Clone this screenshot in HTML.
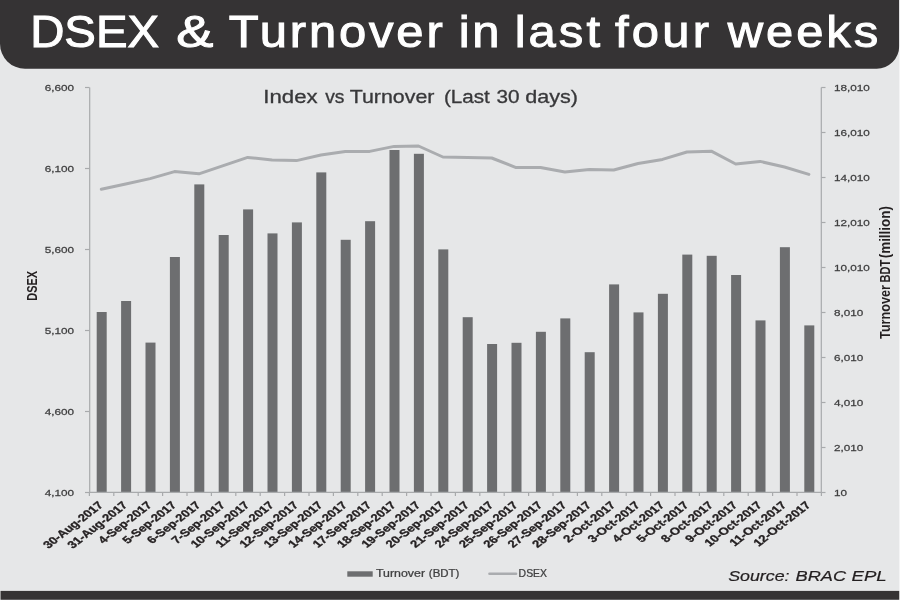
<!DOCTYPE html><html><head><meta charset="utf-8"><style>html,body{margin:0;padding:0;background:#e6e7e8}svg{display:block;will-change:transform}text{font-family:"Liberation Sans",sans-serif}</style></head><body>
<svg width="900" height="600" viewBox="0 0 900 600">
<rect width="900" height="600" fill="#e6e7e8"/>
<path d="M0 0H899.2V46.2A22.5 22.5 0 0 1 876.7 68.7H25A25 25 0 0 1 0 43.7Z" fill="#353334"/>
<text transform="translate(30.21 47.4) scale(1.0629 1)" font-size="44.5" letter-spacing="0.000" fill="#fff" stroke="#fff" stroke-width="1.0">DSEX</text>
<text transform="translate(176.16 47.4) scale(1.2512 1)" font-size="44.5" letter-spacing="0.000" fill="#fff" stroke="#fff" stroke-width="1.0">&amp;</text>
<text transform="translate(228.84 47.4) scale(1.1000 1)" font-size="44.5" letter-spacing="2.577" fill="#fff" stroke="#fff" stroke-width="1.0">Turnover</text>
<text transform="translate(458.74 47.4) scale(1.1000 1)" font-size="44.5" letter-spacing="2.371" fill="#fff" stroke="#fff" stroke-width="1.0">in</text>
<text transform="translate(514.64 47.4) scale(1.1000 1)" font-size="44.5" letter-spacing="2.793" fill="#fff" stroke="#fff" stroke-width="1.0">last</text>
<text transform="translate(614.90 47.4) scale(1.1000 1)" font-size="44.5" letter-spacing="2.966" fill="#fff" stroke="#fff" stroke-width="1.0">four</text>
<text transform="translate(727.66 47.4) scale(1.1000 1)" font-size="44.5" letter-spacing="2.686" fill="#fff" stroke="#fff" stroke-width="1.0">weeks</text>
<rect x="0.55" y="590.9" width="899" height="8.85" fill="#353334"/>
<rect x="96.70" y="312.00" width="10" height="180.20" fill="#6d6e70"/>
<rect x="121.10" y="301.00" width="10" height="191.20" fill="#6d6e70"/>
<rect x="145.50" y="342.60" width="10" height="149.60" fill="#6d6e70"/>
<rect x="169.90" y="257.00" width="10" height="235.20" fill="#6d6e70"/>
<rect x="194.30" y="184.40" width="10" height="307.80" fill="#6d6e70"/>
<rect x="218.70" y="235.00" width="10" height="257.20" fill="#6d6e70"/>
<rect x="243.10" y="209.40" width="10" height="282.80" fill="#6d6e70"/>
<rect x="267.50" y="233.40" width="10" height="258.80" fill="#6d6e70"/>
<rect x="291.90" y="222.40" width="10" height="269.80" fill="#6d6e70"/>
<rect x="316.30" y="172.40" width="10" height="319.80" fill="#6d6e70"/>
<rect x="340.70" y="239.80" width="10" height="252.40" fill="#6d6e70"/>
<rect x="365.10" y="221.20" width="10" height="271.00" fill="#6d6e70"/>
<rect x="389.50" y="150.00" width="10" height="342.20" fill="#6d6e70"/>
<rect x="413.90" y="153.80" width="10" height="338.40" fill="#6d6e70"/>
<rect x="438.30" y="249.40" width="10" height="242.80" fill="#6d6e70"/>
<rect x="462.70" y="317.20" width="10" height="175.00" fill="#6d6e70"/>
<rect x="487.10" y="344.00" width="10" height="148.20" fill="#6d6e70"/>
<rect x="511.50" y="342.80" width="10" height="149.40" fill="#6d6e70"/>
<rect x="535.90" y="331.80" width="10" height="160.40" fill="#6d6e70"/>
<rect x="560.30" y="318.40" width="10" height="173.80" fill="#6d6e70"/>
<rect x="584.70" y="352.20" width="10" height="140.00" fill="#6d6e70"/>
<rect x="609.10" y="284.40" width="10" height="207.80" fill="#6d6e70"/>
<rect x="633.50" y="312.40" width="10" height="179.80" fill="#6d6e70"/>
<rect x="657.90" y="293.80" width="10" height="198.40" fill="#6d6e70"/>
<rect x="682.30" y="254.60" width="10" height="237.60" fill="#6d6e70"/>
<rect x="706.70" y="255.80" width="10" height="236.40" fill="#6d6e70"/>
<rect x="731.10" y="275.00" width="10" height="217.20" fill="#6d6e70"/>
<rect x="755.50" y="320.40" width="10" height="171.80" fill="#6d6e70"/>
<rect x="779.90" y="247.20" width="10" height="245.00" fill="#6d6e70"/>
<rect x="804.30" y="325.40" width="10" height="166.80" fill="#6d6e70"/>
<polyline points="101.30,189.20 125.70,184.00 150.10,178.60 174.50,171.60 198.90,173.80 223.30,165.60 247.70,157.40 272.10,160.00 296.50,160.60 320.90,155.00 345.30,151.40 369.70,151.40 394.10,146.40 418.50,146.00 442.90,157.00 467.30,157.40 491.70,158.00 516.10,167.60 540.50,167.60 564.90,172.00 589.30,169.60 613.70,170.00 638.10,163.50 662.50,159.40 686.90,152.00 711.30,151.20 735.70,164.00 760.10,161.40 784.50,167.00 808.90,174.40" fill="none" stroke="#aaacaf" stroke-width="3" stroke-linejoin="round" stroke-linecap="round"/>
<g stroke="#a8aaac" stroke-width="1.2" fill="none">
<path d="M89.7 87.5V492.4H821.3V87.5"/>
<path d="M85 87.5H89.5"/>
<path d="M85 168.5H89.5"/>
<path d="M85 249.5H89.5"/>
<path d="M85 330.5H89.5"/>
<path d="M85 411.5H89.5"/>
<path d="M85 492.5H89.5"/>
<path d="M821.3 87.5H825.5"/>
<path d="M821.3 132.5H825.5"/>
<path d="M821.3 177.5H825.5"/>
<path d="M821.3 222.5H825.5"/>
<path d="M821.3 267.5H825.5"/>
<path d="M821.3 312.5H825.5"/>
<path d="M821.3 357.5H825.5"/>
<path d="M821.3 402.5H825.5"/>
<path d="M821.3 447.5H825.5"/>
<path d="M821.3 492.5H825.5"/>
<path d="M89.40 492.5V496"/>
<path d="M113.80 492.5V496"/>
<path d="M138.20 492.5V496"/>
<path d="M162.60 492.5V496"/>
<path d="M187.00 492.5V496"/>
<path d="M211.40 492.5V496"/>
<path d="M235.80 492.5V496"/>
<path d="M260.20 492.5V496"/>
<path d="M284.60 492.5V496"/>
<path d="M309.00 492.5V496"/>
<path d="M333.40 492.5V496"/>
<path d="M357.80 492.5V496"/>
<path d="M382.20 492.5V496"/>
<path d="M406.60 492.5V496"/>
<path d="M431.00 492.5V496"/>
<path d="M455.40 492.5V496"/>
<path d="M479.80 492.5V496"/>
<path d="M504.20 492.5V496"/>
<path d="M528.60 492.5V496"/>
<path d="M553.00 492.5V496"/>
<path d="M577.40 492.5V496"/>
<path d="M601.80 492.5V496"/>
<path d="M626.20 492.5V496"/>
<path d="M650.60 492.5V496"/>
<path d="M675.00 492.5V496"/>
<path d="M699.40 492.5V496"/>
<path d="M723.80 492.5V496"/>
<path d="M748.20 492.5V496"/>
<path d="M772.60 492.5V496"/>
<path d="M797.00 492.5V496"/>
<path d="M821.40 492.5V496"/>
</g>
<text transform="translate(74 91.2) scale(1.21 1)" text-anchor="end" font-size="9.7" fill="#404041" stroke="#404041" stroke-width="0.25">6,600</text>
<text transform="translate(74 172.2) scale(1.21 1)" text-anchor="end" font-size="9.7" fill="#404041" stroke="#404041" stroke-width="0.25">6,100</text>
<text transform="translate(74 253.2) scale(1.21 1)" text-anchor="end" font-size="9.7" fill="#404041" stroke="#404041" stroke-width="0.25">5,600</text>
<text transform="translate(74 334.2) scale(1.21 1)" text-anchor="end" font-size="9.7" fill="#404041" stroke="#404041" stroke-width="0.25">5,100</text>
<text transform="translate(74 415.2) scale(1.21 1)" text-anchor="end" font-size="9.7" fill="#404041" stroke="#404041" stroke-width="0.25">4,600</text>
<text transform="translate(74 496.2) scale(1.21 1)" text-anchor="end" font-size="9.7" fill="#404041" stroke="#404041" stroke-width="0.25">4,100</text>
<text transform="translate(834 91.2) scale(1.21 1)" font-size="9.7" fill="#404041" stroke="#404041" stroke-width="0.25">18,010</text>
<text transform="translate(834 136.2) scale(1.21 1)" font-size="9.7" fill="#404041" stroke="#404041" stroke-width="0.25">16,010</text>
<text transform="translate(834 181.2) scale(1.21 1)" font-size="9.7" fill="#404041" stroke="#404041" stroke-width="0.25">14,010</text>
<text transform="translate(834 226.2) scale(1.21 1)" font-size="9.7" fill="#404041" stroke="#404041" stroke-width="0.25">12,010</text>
<text transform="translate(834 271.2) scale(1.21 1)" font-size="9.7" fill="#404041" stroke="#404041" stroke-width="0.25">10,010</text>
<text transform="translate(834 316.2) scale(1.21 1)" font-size="9.7" fill="#404041" stroke="#404041" stroke-width="0.25">8,010</text>
<text transform="translate(834 361.2) scale(1.21 1)" font-size="9.7" fill="#404041" stroke="#404041" stroke-width="0.25">6,010</text>
<text transform="translate(834 406.2) scale(1.21 1)" font-size="9.7" fill="#404041" stroke="#404041" stroke-width="0.25">4,010</text>
<text transform="translate(834 451.2) scale(1.21 1)" font-size="9.7" fill="#404041" stroke="#404041" stroke-width="0.25">2,010</text>
<text transform="translate(834 496.2) scale(1.21 1)" font-size="9.7" fill="#404041" stroke="#404041" stroke-width="0.25">10</text>
<text transform="translate(263.35 102.80) scale(1.2476 1)" font-size="17.8" fill="#38383a" stroke="#38383a" stroke-width="0.3" >Index</text>
<text transform="translate(325.15 102.80) scale(1.0831 1)" font-size="17.8" fill="#38383a" stroke="#38383a" stroke-width="0.3" >vs</text>
<text transform="translate(349.72 102.80) scale(1.2019 1)" font-size="17.8" fill="#38383a" stroke="#38383a" stroke-width="0.3" >Turnover</text>
<text transform="translate(443.91 102.80) scale(1.1599 1)" font-size="17.8" fill="#38383a" stroke="#38383a" stroke-width="0.3" >(Last</text>
<text transform="translate(496.53 102.80) scale(1.1655 1)" font-size="17.8" fill="#38383a" stroke="#38383a" stroke-width="0.3" >30</text>
<text transform="translate(525.29 102.80) scale(1.2110 1)" font-size="17.8" fill="#38383a" stroke="#38383a" stroke-width="0.3" >days)</text>
<text transform="translate(103.90 505.80) scale(1.28 1) rotate(-45)" text-anchor="end" font-size="10.3" font-weight="bold" fill="#231f20" stroke="#231f20" stroke-width="0.3">30-Aug-2017</text>
<text transform="translate(128.30 505.80) scale(1.28 1) rotate(-45)" text-anchor="end" font-size="10.3" font-weight="bold" fill="#231f20" stroke="#231f20" stroke-width="0.3">31-Aug-2017</text>
<text transform="translate(152.70 505.80) scale(1.28 1) rotate(-45)" text-anchor="end" font-size="10.3" font-weight="bold" fill="#231f20" stroke="#231f20" stroke-width="0.3">4-Sep-2017</text>
<text transform="translate(177.10 505.80) scale(1.28 1) rotate(-45)" text-anchor="end" font-size="10.3" font-weight="bold" fill="#231f20" stroke="#231f20" stroke-width="0.3">5-Sep-2017</text>
<text transform="translate(201.50 505.80) scale(1.28 1) rotate(-45)" text-anchor="end" font-size="10.3" font-weight="bold" fill="#231f20" stroke="#231f20" stroke-width="0.3">6-Sep-2017</text>
<text transform="translate(225.90 505.80) scale(1.28 1) rotate(-45)" text-anchor="end" font-size="10.3" font-weight="bold" fill="#231f20" stroke="#231f20" stroke-width="0.3">7-Sep-2017</text>
<text transform="translate(250.30 505.80) scale(1.28 1) rotate(-45)" text-anchor="end" font-size="10.3" font-weight="bold" fill="#231f20" stroke="#231f20" stroke-width="0.3">10-Sep-2017</text>
<text transform="translate(274.70 505.80) scale(1.28 1) rotate(-45)" text-anchor="end" font-size="10.3" font-weight="bold" fill="#231f20" stroke="#231f20" stroke-width="0.3">11-Sep-2017</text>
<text transform="translate(299.10 505.80) scale(1.28 1) rotate(-45)" text-anchor="end" font-size="10.3" font-weight="bold" fill="#231f20" stroke="#231f20" stroke-width="0.3">12-Sep-2017</text>
<text transform="translate(323.50 505.80) scale(1.28 1) rotate(-45)" text-anchor="end" font-size="10.3" font-weight="bold" fill="#231f20" stroke="#231f20" stroke-width="0.3">13-Sep-2017</text>
<text transform="translate(347.90 505.80) scale(1.28 1) rotate(-45)" text-anchor="end" font-size="10.3" font-weight="bold" fill="#231f20" stroke="#231f20" stroke-width="0.3">14-Sep-2017</text>
<text transform="translate(372.30 505.80) scale(1.28 1) rotate(-45)" text-anchor="end" font-size="10.3" font-weight="bold" fill="#231f20" stroke="#231f20" stroke-width="0.3">17-Sep-2017</text>
<text transform="translate(396.70 505.80) scale(1.28 1) rotate(-45)" text-anchor="end" font-size="10.3" font-weight="bold" fill="#231f20" stroke="#231f20" stroke-width="0.3">18-Sep-2017</text>
<text transform="translate(421.10 505.80) scale(1.28 1) rotate(-45)" text-anchor="end" font-size="10.3" font-weight="bold" fill="#231f20" stroke="#231f20" stroke-width="0.3">19-Sep-2017</text>
<text transform="translate(445.50 505.80) scale(1.28 1) rotate(-45)" text-anchor="end" font-size="10.3" font-weight="bold" fill="#231f20" stroke="#231f20" stroke-width="0.3">20-Sep-2017</text>
<text transform="translate(469.90 505.80) scale(1.28 1) rotate(-45)" text-anchor="end" font-size="10.3" font-weight="bold" fill="#231f20" stroke="#231f20" stroke-width="0.3">21-Sep-2017</text>
<text transform="translate(494.30 505.80) scale(1.28 1) rotate(-45)" text-anchor="end" font-size="10.3" font-weight="bold" fill="#231f20" stroke="#231f20" stroke-width="0.3">24-Sep-2017</text>
<text transform="translate(518.70 505.80) scale(1.28 1) rotate(-45)" text-anchor="end" font-size="10.3" font-weight="bold" fill="#231f20" stroke="#231f20" stroke-width="0.3">25-Sep-2017</text>
<text transform="translate(543.10 505.80) scale(1.28 1) rotate(-45)" text-anchor="end" font-size="10.3" font-weight="bold" fill="#231f20" stroke="#231f20" stroke-width="0.3">26-Sep-2017</text>
<text transform="translate(567.50 505.80) scale(1.28 1) rotate(-45)" text-anchor="end" font-size="10.3" font-weight="bold" fill="#231f20" stroke="#231f20" stroke-width="0.3">27-Sep-2017</text>
<text transform="translate(591.90 505.80) scale(1.28 1) rotate(-45)" text-anchor="end" font-size="10.3" font-weight="bold" fill="#231f20" stroke="#231f20" stroke-width="0.3">28-Sep-2017</text>
<text transform="translate(616.30 505.80) scale(1.28 1) rotate(-45)" text-anchor="end" font-size="10.3" font-weight="bold" fill="#231f20" stroke="#231f20" stroke-width="0.3">2-Oct-2017</text>
<text transform="translate(640.70 505.80) scale(1.28 1) rotate(-45)" text-anchor="end" font-size="10.3" font-weight="bold" fill="#231f20" stroke="#231f20" stroke-width="0.3">3-Oct-2017</text>
<text transform="translate(665.10 505.80) scale(1.28 1) rotate(-45)" text-anchor="end" font-size="10.3" font-weight="bold" fill="#231f20" stroke="#231f20" stroke-width="0.3">4-Oct-2017</text>
<text transform="translate(689.50 505.80) scale(1.28 1) rotate(-45)" text-anchor="end" font-size="10.3" font-weight="bold" fill="#231f20" stroke="#231f20" stroke-width="0.3">5-Oct-2017</text>
<text transform="translate(713.90 505.80) scale(1.28 1) rotate(-45)" text-anchor="end" font-size="10.3" font-weight="bold" fill="#231f20" stroke="#231f20" stroke-width="0.3">8-Oct-2017</text>
<text transform="translate(738.30 505.80) scale(1.28 1) rotate(-45)" text-anchor="end" font-size="10.3" font-weight="bold" fill="#231f20" stroke="#231f20" stroke-width="0.3">9-Oct-2017</text>
<text transform="translate(762.70 505.80) scale(1.28 1) rotate(-45)" text-anchor="end" font-size="10.3" font-weight="bold" fill="#231f20" stroke="#231f20" stroke-width="0.3">10-Oct-2017</text>
<text transform="translate(787.10 505.80) scale(1.28 1) rotate(-45)" text-anchor="end" font-size="10.3" font-weight="bold" fill="#231f20" stroke="#231f20" stroke-width="0.3">11-Oct-2017</text>
<text transform="translate(811.50 505.80) scale(1.28 1) rotate(-45)" text-anchor="end" font-size="10.3" font-weight="bold" fill="#231f20" stroke="#231f20" stroke-width="0.3">12-Oct-2017</text>
<text transform="translate(37.00 300.66) rotate(-90) scale(0.7044 1)" font-size="15.5" font-weight="bold" fill="#231f20">DSEX</text>
<text transform="translate(890.00 338.88) rotate(-90) scale(0.8139 1)" font-size="15.5" font-weight="bold" fill="#231f20">Turnover</text>
<text transform="translate(890.00 282.56) rotate(-90) scale(0.7149 1)" font-size="15.5" font-weight="bold" fill="#231f20">BDT</text>
<text transform="translate(890.00 258.34) rotate(-90) scale(0.8698 1)" font-size="15.5" font-weight="bold" fill="#231f20">(million)</text>
<rect x="347.3" y="571.3" width="25.4" height="5.4" fill="#6d6e70"/>
<path d="M489.5 573.7H516" stroke="#aaacaf" stroke-width="2.6" stroke-linecap="round"/>
<text transform="translate(375.98 577.40) scale(1.2376 1)" font-size="10" fill="#404041" stroke="#404041" stroke-width="0.25" >Turnover</text>
<text transform="translate(428.84 577.40) scale(1.1457 1)" font-size="10" fill="#404041" stroke="#404041" stroke-width="0.25" >(BDT)</text>
<text transform="translate(518.59 577.40) scale(1.0453 1)" font-size="10" fill="#404041" stroke="#404041" stroke-width="0.25" >DSEX</text>
<text transform="translate(728.14 581.40) scale(1.1965 1)" font-size="14.9" fill="#231f20" stroke="#231f20" stroke-width="0.2" font-style="italic">Source:</text>
<text transform="translate(795.55 581.40) scale(1.2225 1)" font-size="14.9" fill="#231f20" stroke="#231f20" stroke-width="0.2" font-style="italic">BRAC</text>
<text transform="translate(851.54 581.40) scale(1.2495 1)" font-size="14.9" fill="#231f20" stroke="#231f20" stroke-width="0.2" font-style="italic">EPL</text>
<rect x="899" y="0" width="1" height="600" fill="#fff" fill-opacity="0.55"/>
</svg></body></html>
